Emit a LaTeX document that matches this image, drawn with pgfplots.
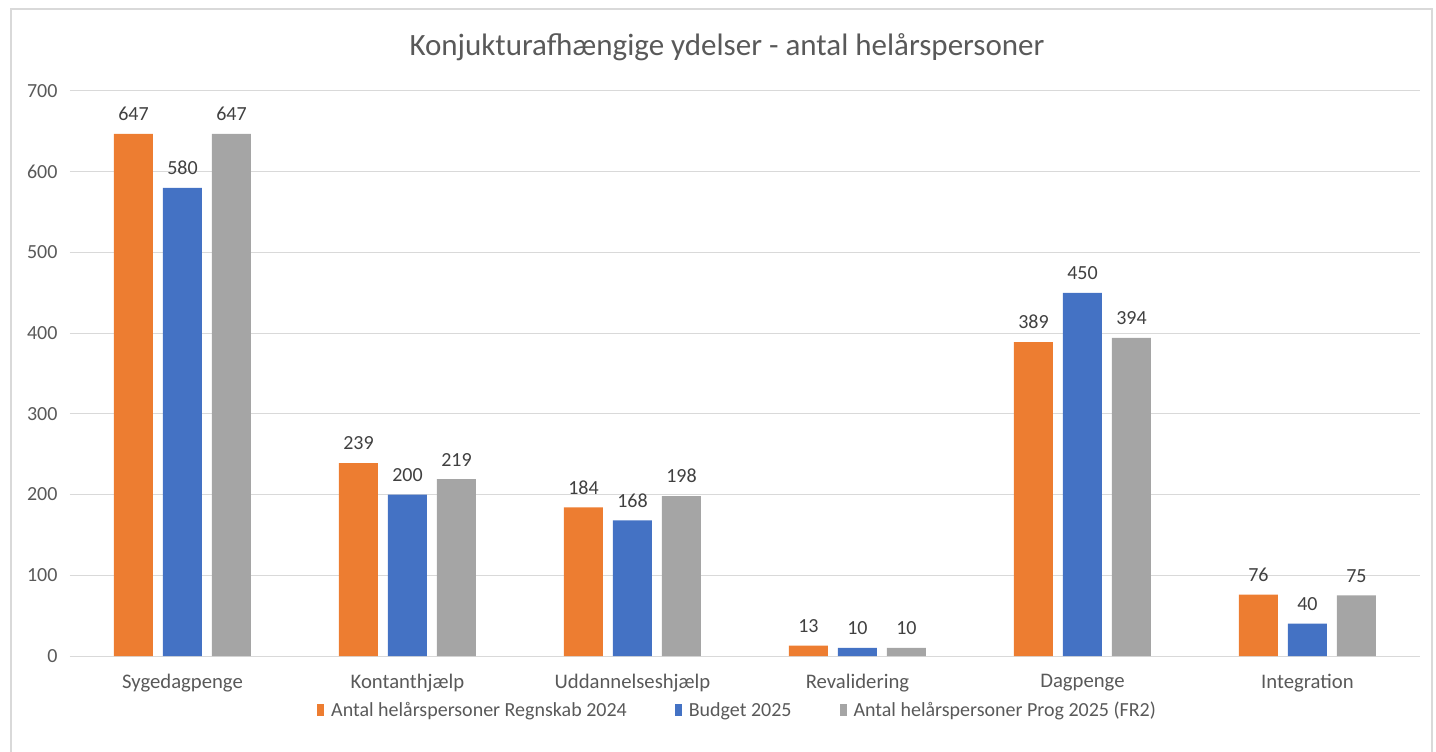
\documentclass[border=0pt]{standalone}
\usepackage{pgfplots}
\pgfplotsset{compat=1.18}
\usepackage{fontspec}
\setmainfont{Carlito}
\definecolor{cOr}{HTML}{ED7D31}
\definecolor{cBl}{HTML}{4472C4}
\definecolor{cGr}{HTML}{A5A5A5}
\definecolor{cGrid}{HTML}{D9D9D9}
\definecolor{cTxt}{HTML}{595959}
\definecolor{cLab}{HTML}{404040}
\begin{document}
\begin{tikzpicture}[x=1bp,y=1bp]
\begin{axis}[
  width=1350bp, height=565bp, scale only axis,
  ybar=10bp, bar width=39bp,
  xmin=-0.5, xmax=5.5, ymin=0, ymax=700,
  xtick={0,1,2,3,4,5},
  xticklabels={Sygedagpenge,Kontanthjælp,Uddannelseshjælp,Revalidering,Dagpenge,Integration},
  ytick={0,100,...,700},
  ymajorgrids, grid style={draw=cGrid, line width=1bp},
  axis x line*=bottom, axis y line*=left,
  y axis line style={draw=none},
  x axis line style={draw=cGrid, line width=1bp, -},
  major tick length=0pt,
  tick style={draw=none},
  /pgf/number format/assume math mode=true,
  ticklabel style={font=\fontsize{20bp}{24bp}\selectfont, text=cTxt},
  yticklabel style={xshift=-9bp},
  xticklabel style={yshift=-15bp, font=\fontsize{20.7bp}{24bp}\selectfont},
  nodes near coords,
  every node near coord/.append style={font=\fontsize{20bp}{24bp}\selectfont, text=cLab, inner sep=5bp, yshift=8bp},
  legend columns=3,
  legend style={at={(0.4945,-0.0956)}, anchor=center, draw=none, fill=none,
    font=\fontsize{20bp}{24bp}\selectfont, text=cTxt,
    /tikz/every even column/.append style={column sep=46bp}},
  legend image code/.code={\fill[#1,draw=none] (0bp,-6bp) rectangle (7bp,6bp); \path (12bp,0bp);},
]
\addplot[fill=cOr, draw=none] coordinates {(0,647) (1,239) (2,184) (3,13) (4,389) (5,76)};
\addplot[fill=cBl, draw=none] coordinates {(0,580) (1,200) (2,168) (3,10) (4,450) (5,40)};
\addplot[fill=cGr, draw=none] coordinates {(0,647) (1,219) (2,198) (3,10) (4,394) (5,75)};
\legend{Antal helårspersoner Regnskab 2024, Budget 2025, Antal helårspersoner Prog 2025 (FR2)}
\coordinate (O) at (rel axis cs:0,0);
\end{axis}
\pgfresetboundingbox
\begin{scope}[shift={(O)}, xshift=-70bp, yshift=-95bp]
\path[use as bounding box] (0,0) rectangle (1436,751);
\draw[cGrid,line width=1.2bp] (11,-5) -- (11,742) -- (1432,742) -- (1432,-5);
\node[text=cTxt,font=\fontsize{31bp}{36bp}\selectfont] at (727,704) {Konjukturafhængige ydelser - antal helårspersoner};
\end{scope}
\end{tikzpicture}
\end{document}
